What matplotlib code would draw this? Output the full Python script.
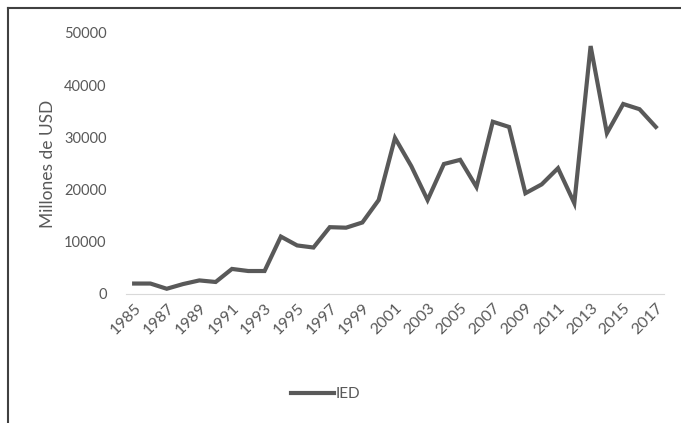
import matplotlib
matplotlib.use("Agg")
import matplotlib.pyplot as plt
from matplotlib.lines import Line2D

# Inversion extranjera directa, millones de USD
years = list(range(1985, 2018))
ied = [2000, 2000, 1000, 1900, 2600, 2300, 4800, 4400, 4400, 11000,
       9300, 8900, 12800, 12700, 13700, 18000, 29900, 24500, 18000, 24900,
       25700, 20500, 33000, 32000, 19300, 21000, 24100, 17400, 47500, 30800,
       36400, 35400, 32000]
tick_years = years[::2]

plt.rcParams['font.family'] = ['Lato', 'DejaVu Sans']
gris = '#595959'

fig = plt.figure(figsize=(6.81, 4.23), dpi=100)
ax = fig.add_axes([0.185, 0.305, 0.79, 0.617])

pos = list(range(len(years)))
ax.plot(pos, ied, color=gris, linewidth=3, solid_joinstyle='miter')
ax.set_xlim(-0.5, len(years) - 0.5)
ax.set_ylim(0, 50000)
ax.set_yticks([0, 10000, 20000, 30000, 40000, 50000])
ax.set_xticks(pos[::2])
ax.set_xticklabels([str(y) for y in tick_years], rotation=45, ha='right',
                   rotation_mode='anchor')
ax.tick_params(axis='both', length=0, colors=gris)
ax.tick_params(axis='y', pad=14, labelsize=10.5)
ax.tick_params(axis='x', pad=5, labelsize=11.5)
for s in ['top', 'right', 'left']:
    ax.spines[s].set_visible(False)
ax.spines['bottom'].set_color('#d9d9d9')
ax.set_ylabel('Millones de USD', color=gris, fontsize=12.5, labelpad=6)

h = Line2D([], [], color=gris, linewidth=3)
fig.legend([h], ['IED'], loc='center', bbox_to_anchor=(0.478, 0.068),
           frameon=False, fontsize=11, handlelength=2.8, handletextpad=0.1,
           labelcolor=gris)

# marco exterior (solo arriba e izquierda visibles)
fig.add_artist(Line2D([0.012, 1.0], [0.981, 0.981], transform=fig.transFigure,
                      color='#404040', linewidth=1.5))
fig.add_artist(Line2D([0.012, 0.012], [0.0, 0.981], transform=fig.transFigure,
                      color='#404040', linewidth=1.5))

fig.savefig('out.png', dpi=100)
